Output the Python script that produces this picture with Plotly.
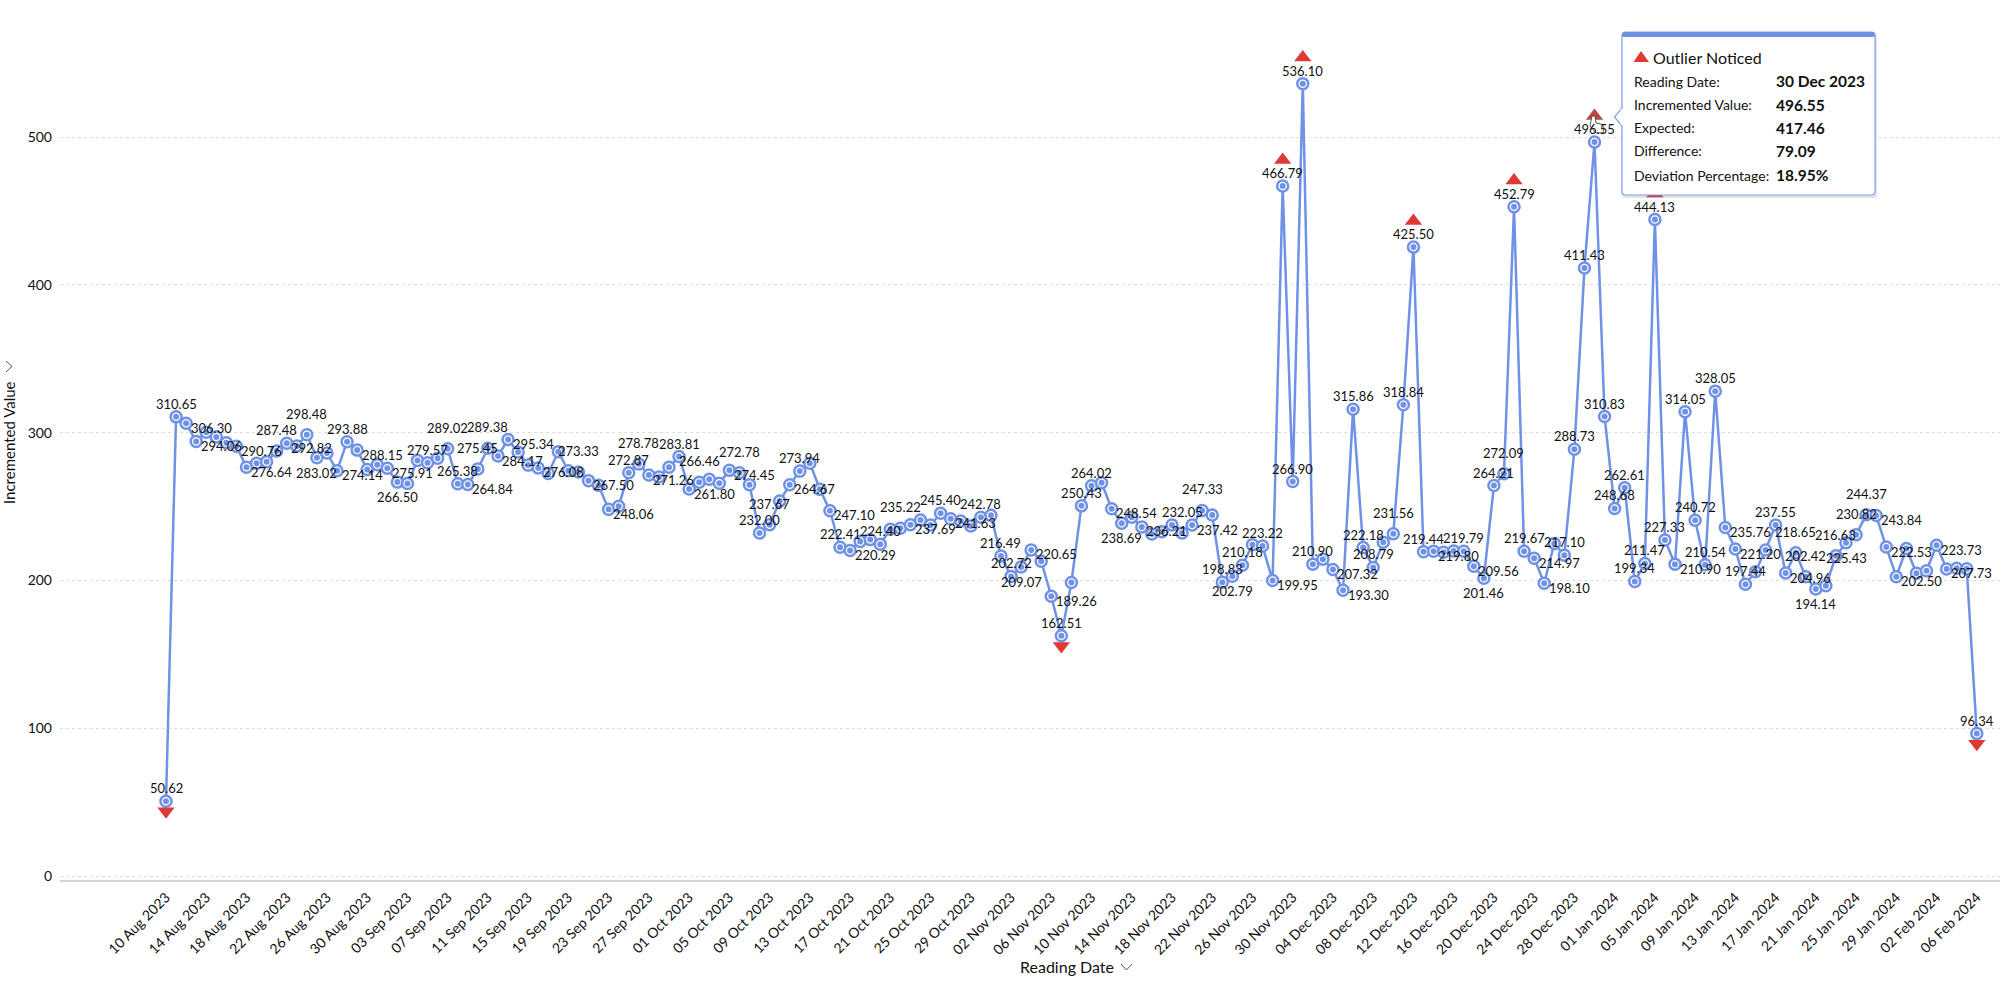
import pandas as pd
import plotly.graph_objects as go

# ---------- data ----------
start_date = "2023-08-10"
values = [
    50.62, 310.65, 306.30, 294.06, 300.2, 297.0, 293.2, 290.76, 276.64, 279.2,
    280.3, 287.48, 292.82, 291.0, 298.48, 283.02, 286.2, 274.14, 293.88, 288.15,
    275.1, 278.3, 275.91, 266.50, 265.5, 281.2, 279.57, 282.6, 289.02, 265.38,
    264.84, 275.45, 289.38, 284.17, 295.34, 286.9, 278.0, 276.08, 272.4, 287.0,
    274.2, 273.33, 267.50, 264.3, 248.06, 250.2, 272.87, 278.78, 271.26, 270.0,
    276.5, 283.81, 261.80, 266.46, 268.4, 265.7, 274.45, 272.78, 264.8, 232.00,
    237.67, 253.7, 264.67, 273.94, 279.2, 261.6, 247.10, 222.41, 220.29, 226.4,
    227.6, 224.40, 234.6, 235.22, 237.69, 240.9, 237.5, 245.40, 241.63, 240.2,
    236.8, 242.78, 244.0, 216.49, 202.72, 209.07, 220.65, 213.0, 189.26, 162.51,
    198.6, 250.43, 264.02, 266.0, 248.54, 238.69, 242.7, 236.21, 231.4, 233.0,
    237.5, 232.05, 237.42, 247.33, 244.2, 198.83, 202.79, 210.18, 224.2, 223.22,
    199.95, 466.79, 266.90, 536.10, 210.90, 214.3, 207.32, 193.30, 315.86, 222.18,
    208.79, 225.8, 231.56, 318.84, 425.50, 219.44, 219.80, 219.0, 219.9, 219.79,
    209.56, 201.46, 264.21, 272.09, 452.79, 219.67, 214.97, 198.10, 225.0, 217.10,
    288.73, 411.43, 496.55, 310.83, 248.68, 262.61, 199.34, 211.47, 444.13, 227.33,
    210.90, 314.05, 240.72, 210.54, 328.05, 235.76, 221.20, 197.44, 205.9, 220.6,
    237.55, 204.96, 218.65, 202.42, 194.14, 196.4, 216.63, 225.43, 230.82, 244.37,
    243.84, 222.53, 202.50, 221.6, 204.8, 206.6, 223.73, 207.73, 208.2, 207.9,
    96.34,
]
dates = pd.date_range(start_date, periods=len(values), freq="D")
tick_dates = list(dates[::4])
tick_labels = [d.strftime("%d %b %Y") for d in tick_dates]

outliers_high = [111, 113, 124, 134, 142, 148]
outliers_low = [0, 89, 180]
hovered_outlier = 142

labels_above = [0, 1, 18, 26, 29, 46, 51, 59, 63, 67, 71, 77, 81, 83, 84, 89, 91, 92,
                105, 107, 109, 111, 112, 113, 114, 118, 119, 120, 123, 124, 125, 129,
                132, 134, 135, 139, 140, 141, 142, 143, 144, 145, 146, 147, 148, 149,
                151, 152, 153, 154, 157, 160, 180]
labels_high = [11, 14, 28, 31, 32, 41, 47, 53, 57, 60, 73, 101, 103, 122, 133, 162,
               163, 166, 168, 169]
labels_right = [2, 3, 7, 8, 12, 17, 19, 22, 30, 33, 34, 37, 42, 44, 48, 52, 56, 62, 66,
                68, 74, 78, 86, 88, 94, 97, 102, 110, 116, 117, 126, 130, 136, 137, 150,
                155, 156, 161, 170, 171, 172, 176, 177]
labels_below = [15, 23, 85, 95, 106, 131, 164, 167]

tooltip_title = "Outlier Noticed"
tooltip_rows = [
    ("Reading Date:", "30 Dec 2023"),
    ("Incremented Value:", "496.55"),
    ("Expected:", "417.46"),
    ("Difference:", "79.09"),
    ("Deviation Percentage:", "18.95%"),
]

# ---------- layout constants ----------
W, H = 2000, 982
L, R, T, B = 60, 2000, 20, 880
BLUE = "#6f92e6"
RED = "#dd3a36"
RED_HOVER = "#b84a46"
FONT = "Lato"
TEXT = "#111111"

PX_PER_DAY = 10.06
X0_PX = 166
Y_PX_PER_UNIT = 1.478
Y0_PX = 876

x_range = [dates[0] + pd.Timedelta(days=(L - X0_PX) / PX_PER_DAY),
           dates[0] + pd.Timedelta(days=(R - X0_PX) / PX_PER_DAY)]
y_range = [(Y0_PX - B) / Y_PX_PER_UNIT, (Y0_PX - T) / Y_PX_PER_UNIT]


def px(x):
    return (x - L) / (R - L)


def py(y):
    return (B - y) / (B - T)


def path(points, close=True):
    s = " ".join(("M" if i == 0 else "L") + f" {px(a):.5f} {py(b):.5f}" for i, (a, b) in enumerate(points))
    return s + (" Z" if close else "")


def shape_path(points, close=True, fill=None, color=None, width=1):
    d = dict(type="path", xref="paper", yref="paper", path=path(points, close),
             line=dict(color=color or "rgba(0,0,0,0)", width=width), layer="above")
    d["fillcolor"] = fill if fill else "rgba(0,0,0,0)"
    return d


def rounded_rect(x0, y0, x1, y1, r, **kw):
    xa, xb, ya, yb = px(x0), px(x1), py(y0), py(y1)
    rx, ry = r / (R - L), r / (B - T)
    p = (f"M {xa+rx:.5f} {ya:.5f} L {xb-rx:.5f} {ya:.5f} Q {xb:.5f} {ya:.5f} {xb:.5f} {ya-ry:.5f} "
         f"L {xb:.5f} {yb+ry:.5f} Q {xb:.5f} {yb:.5f} {xb-rx:.5f} {yb:.5f} "
         f"L {xa+rx:.5f} {yb:.5f} Q {xa:.5f} {yb:.5f} {xa:.5f} {yb+ry:.5f} "
         f"L {xa:.5f} {ya-ry:.5f} Q {xa:.5f} {ya:.5f} {xa+rx:.5f} {ya:.5f} Z")
    return dict(type="path", xref="paper", yref="paper", path=p, layer="above", **kw)


fig = go.Figure()

# line + ring markers
fig.add_trace(go.Scatter(
    x=dates, y=values, mode="lines+markers",
    line=dict(color=BLUE, width=2.5),
    marker=dict(size=11, color="white", line=dict(color=BLUE, width=2.5)),
    hoverinfo="skip", showlegend=False))
fig.add_trace(go.Scatter(
    x=dates, y=values, mode="markers",
    marker=dict(size=6, color=BLUE),
    hoverinfo="skip", showlegend=False))

# outlier triangles, offset in screen pixels from their points
UP_OFFSET = 26.2 / Y_PX_PER_UNIT
DOWN_OFFSET = 10.1 / Y_PX_PER_UNIT
fig.add_trace(go.Scatter(
    x=[dates[i] for i in outliers_high],
    y=[values[i] + UP_OFFSET for i in outliers_high],
    mode="markers",
    marker=dict(symbol="triangle-up", size=15, line=dict(width=0),
                color=[RED_HOVER if i == hovered_outlier else RED for i in outliers_high]),
    hoverinfo="skip", showlegend=False))
fig.add_trace(go.Scatter(
    x=[dates[i] for i in outliers_low],
    y=[values[i] - DOWN_OFFSET for i in outliers_low],
    mode="markers", marker=dict(symbol="triangle-down", size=15, color=RED, line=dict(width=0)),
    hoverinfo="skip", showlegend=False))

annotations = []
placements = [(labels_above, 0, 13), (labels_high, 0, 21), (labels_right, 25, -4.5), (labels_below, 0, -15)]
for idx, dx, dy in placements:
    for i in idx:
        annotations.append(dict(
            x=dates[i], y=values[i], xref="x", yref="y", text=f"{values[i]:.2f}",
            showarrow=False, xshift=dx, yshift=dy, xanchor="center", yanchor="middle",
            font=dict(family=FONT, size=13, color=TEXT)))

# axis titles
annotations.append(dict(xref="paper", yref="paper", x=px(1067), y=py(966), text="Reading Date",
                        showarrow=False, xanchor="center", yanchor="middle",
                        font=dict(family=FONT, size=16, color=TEXT)))
annotations.append(dict(xref="paper", yref="paper", x=px(9), y=py(443), text="Incremented Value",
                        showarrow=False, xanchor="center", yanchor="middle", textangle=-90,
                        font=dict(family=FONT, size=15, color=TEXT)))

# tooltip text
annotations.append(dict(xref="paper", yref="paper", x=px(1651), y=py(57), text=tooltip_title,
                        showarrow=False, xanchor="left", yanchor="middle",
                        font=dict(family=FONT, size=16, color=TEXT)))
row_ys = [81, 104.5, 128, 151, 175]
for (lab, val), ry in zip(tooltip_rows, row_ys):
    annotations.append(dict(xref="paper", yref="paper", x=px(1632), y=py(ry), text=lab,
                            showarrow=False, xanchor="left", yanchor="middle",
                            font=dict(family=FONT, size=14, color=TEXT)))
    annotations.append(dict(xref="paper", yref="paper", x=px(1774), y=py(ry), text=f"<b>{val}</b>",
                            showarrow=False, xanchor="left", yanchor="middle",
                            font=dict(family=FONT, size=15.5, color=TEXT)))

shapes = [
    # tooltip shadow, box, header bar
    rounded_rect(1621, 33, 1877, 198, 4, fillcolor="rgba(60,80,130,0.16)", line=dict(width=0)),
    shape_path([(1622, 108), (1614.5, 117), (1622, 126)], close=True, fill="white", color="#83a0e8", width=1.2),
    rounded_rect(1622, 32, 1875, 195, 4, fillcolor="white", line=dict(color="#83a0e8", width=1.2)),
    rounded_rect(1622, 32, 1875, 37, 2, fillcolor=BLUE, line=dict(width=0)),
    dict(type="line", xref="paper", yref="paper", x0=px(1622), x1=px(1622), y0=py(109), y1=py(125),
         line=dict(color="white", width=2.5), layer="above"),
    # tooltip triangle
    shape_path([(1633.5, 62), (1641, 51), (1649, 62)], fill=RED),
    # axis title chevrons
    shape_path([(1121, 964), (1126.5, 970), (1132, 964)], close=False, color="#555555", width=1),
    shape_path([(6, 361), (12, 366.5), (6, 372)], close=False, color="#555555", width=1),
    # hand cursor
    shape_path([(1592, 116), (1595, 116), (1596, 123), (1601, 124), (1604, 127), (1603, 133),
                (1596, 133), (1590, 126)], fill="white", color="#333333", width=0.8),
]

fig.update_layout(
    width=W, height=H,
    margin=dict(l=L, r=W - R, t=T, b=H - B, pad=0),
    paper_bgcolor="white", plot_bgcolor="white",
    showlegend=False, hovermode=False,
    annotations=annotations, shapes=shapes,
    font=dict(family=FONT, size=14, color=TEXT),
    xaxis=dict(
        type="date", range=x_range, tickmode="array", tickvals=tick_dates, ticktext=tick_labels,
        tickangle=-45, showgrid=False, zeroline=False,
        showline=True, linecolor="#d4d4d4", linewidth=1.5, ticks="",
        ticklabelstandoff=2, tickfont=dict(family=FONT, size=14, color=TEXT)),
    yaxis=dict(
        range=y_range, dtick=100, tick0=0, showgrid=True, griddash="dot",
        gridcolor="#dcdcdc", gridwidth=1, zeroline=False, showline=False, ticks="",
        ticklabelstandoff=7, tickfont=dict(family=FONT, size=14, color=TEXT)),
)

fig.write_html("out.html", config=dict(displayModeBar=False),
               post_script="document.body.style.margin='0';document.body.style.overflow='hidden';")
